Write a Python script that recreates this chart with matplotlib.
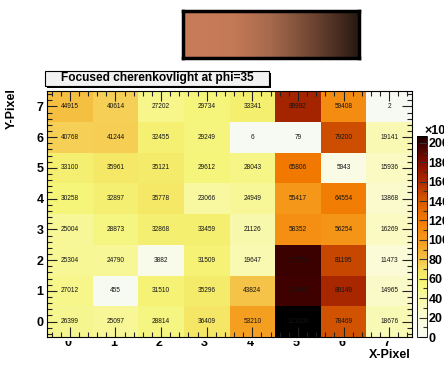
import numpy as np
import matplotlib
matplotlib.use("Agg")
import matplotlib.pyplot as plt
from matplotlib.colors import LinearSegmentedColormap, Normalize
from matplotlib.patches import Rectangle
from matplotlib.ticker import MultipleLocator
from matplotlib.transforms import Bbox, TransformedBbox
import matplotlib.cm as cm

plt.rcParams['font.family'] = ['Liberation Sans', 'DejaVu Sans']

# Photon counts per pixel, rows listed from Y=7 down to Y=0, columns X=0..7
x_pixels = [0, 1, 2, 3, 4, 5, 6, 7]
y_pixels = [7, 6, 5, 4, 3, 2, 1, 0]
counts = [
    [44915, 40614, 27202, 29734, 33341, 89992, 59408, 2],
    [40768, 41244, 32455, 29249, 6, 79, 79200, 19141],
    [33100, 35961, 35121, 29612, 28043, 65806, 5943, 15936],
    [30258, 32897, 35778, 23066, 24949, 55417, 64554, 13868],
    [25004, 28873, 32868, 33459, 21126, 58352, 56254, 16269],
    [25304, 24790, 3882, 31509, 19647, 108757, 81195, 11473],
    [27012, 455, 31510, 35296, 43824, 108547, 89149, 14965],
    [26399, 25097, 28814, 36409, 53210, 121000, 78469, 18676],
]
cell_max = 113000
scale_max = 207000
scale_ticks = [0, 20000, 40000, 60000, 80000, 100000, 120000, 140000, 160000, 180000, 200000]
title = "Focused cherenkovlight at phi=35"

# Dark body radiator style palette
stops = [0, 20, 40, 55, 65, 75, 85, 100, 120, 140, 160, 180, 200, 207]
cols = ['#f7faf2', '#fbfbd8', '#f8f8a8', '#f5f57a', '#f5ea68', '#f6cf55', '#f5b83a',
        '#f59a1c', '#f27b02', '#d85a00', '#b02c00', '#840c00', '#3a0000', '#150000']
cmap = LinearSegmentedColormap.from_list('dbr', list(zip(np.array(stops) / 207.0, cols)))
cmap.set_over('#000000')

W, H = 444, 365
fig = plt.figure(figsize=(W / 100, H / 100), dpi=100)

def fx(px):
    return px / W

def fy(py):
    return 1 - py / H

# main histogram
ax = fig.add_axes([fx(47), fy(337), fx(412) - fx(47), fy(91) - fy(337)])
z = np.array(counts, dtype=float)[::-1]
xe = np.arange(len(x_pixels) + 1) - 0.5
ye = np.arange(len(y_pixels) + 1) - 0.5
ax.pcolormesh(xe, ye, z, cmap=cmap, norm=Normalize(0, cell_max), shading='flat')
for r, yv in enumerate(y_pixels):
    for c, xv in enumerate(x_pixels):
        ax.text(xv, yv, str(counts[r][c]), ha='center', va='center',
                fontsize=4.7, color='#141414')
ax.set_xlim(-0.5, 7.5)
ax.set_ylim(-0.5, 7.5)
ax.xaxis.set_major_locator(MultipleLocator(1))
ax.yaxis.set_major_locator(MultipleLocator(1))
ax.xaxis.set_minor_locator(MultipleLocator(0.2))
ax.yaxis.set_minor_locator(MultipleLocator(0.2))
ax.tick_params(which='both', direction='in', top=True, right=True, width=0.8, color='#222222')
ax.tick_params(which='major', length=7)
ax.tick_params(which='minor', length=3.5)
ax.tick_params(axis='y', labelsize=9, pad=2.5)
ax.set_xticklabels([])
for lbl in ax.get_yticklabels():
    lbl.set_fontweight('bold')
for s in ax.spines.values():
    s.set_linewidth(0.8)

# x labels, their top part hidden just below the frame
clip = TransformedBbox(Bbox([[0, 0], [1, fy(341)]]), fig.transFigure)
for xv in x_pixels:
    xp = ax.transData.transform((xv, 0))[0]
    t = fig.text(xp / W - fx(2), fy(337), str(xv), ha='center', va='top',
                 fontsize=9, fontweight='bold')
    t.set_clip_on(True)
    t.set_clip_box(clip)

fig.text(fx(411), fy(355), "X-Pixel", ha='right', va='center', fontsize=9, fontweight='bold')
fig.text(fx(12), fy(88), "Y-Pixel", ha='center', va='top', rotation=90,
         fontsize=9, fontweight='bold')

# colour scale
cax = fig.add_axes([fx(417), fy(337), fx(427) - fx(417), fy(136) - fy(337)])
sm = cm.ScalarMappable(norm=Normalize(0, scale_max), cmap=cmap)
cb = fig.colorbar(sm, cax=cax)
cb.outline.set_linewidth(0.6)
cb.set_ticks(scale_ticks)
cb.set_ticklabels([str(v // 1000) for v in scale_ticks])
cax.yaxis.set_minor_locator(MultipleLocator(10000))
cax.tick_params(which='both', direction='in', right=True, left=False, width=0.8, color='#333333')
cax.tick_params(which='major', length=6, labelsize=9, pad=1)
cax.tick_params(which='minor', length=3)
for lbl in cax.get_yticklabels():
    lbl.set_fontweight('bold')
fig.text(fx(424), fy(131), "\u00d710", ha='left', va='center', fontsize=9, fontweight='bold')
fig.text(fx(444), fy(127), "3", ha='left', va='center', fontsize=6, fontweight='bold')

# title box with drop shadow
bx0, bx1, by0, by1 = 45, 269, 71, 86
fig.patches.append(Rectangle((fx(bx0 + 2), fy(by1 + 2)), fx(bx1) - fx(bx0), fy(by0) - fy(by1),
                             transform=fig.transFigure, facecolor='black', edgecolor='none'))
fig.patches.append(Rectangle((fx(bx0), fy(by1)), fx(bx1) - fx(bx0), fy(by0) - fy(by1),
                             transform=fig.transFigure, facecolor='#f2f2f2', edgecolor='black',
                             linewidth=0.8))
fig.text(fx((bx0 + bx1) / 2), fy((by0 + by1) / 2), title, ha='center', va='center',
         fontsize=8.6, fontweight='bold')

# palette strip at the top
gax = fig.add_axes([fx(183), fy(58), fx(359) - fx(183), fy(11) - fy(58)])
gcmap = LinearSegmentedColormap.from_list(
    'strip', [(0, '#c97c59'), (0.28, '#c57a57'), (0.5, '#a5694c'), (0.75, '#6c4431'), (1, '#281811')])
gax.imshow(np.linspace(0, 1, 256)[None, :], aspect='auto', cmap=gcmap, extent=(0, 1, 0, 1))
gax.set_xticks([])
gax.set_yticks([])
for s in gax.spines.values():
    s.set_linewidth(2.5)

fig.savefig("out.png", dpi=100)
